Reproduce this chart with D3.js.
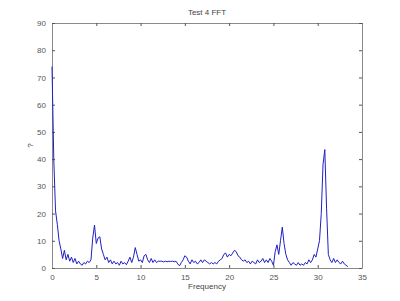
<!DOCTYPE html>
<html>
<head>
<meta charset="utf-8">
<script src="https://cdn.jsdelivr.net/npm/d3@7"></script>
<style>
  body { margin: 0; background: #fff; }
  svg text { font-family: "Liberation Sans", Arial, sans-serif; }
</style>
</head>
<body>
<div class="chart"></div>
<script>
// spectrum magnitudes, sampled every 0.2 Hz starting at 0
let step = 0.2;
let magnitudes = [
  74, 40, 21, 16, 10, 7, 3.5, 6.5, 3, 5,
  2.5, 4, 2, 3.5, 1.5, 2.5, 1.5, 1, 2, 1.5,
  2.5, 2, 3, 11, 15.8, 9, 11, 11.5, 7, 5,
  3, 4, 2, 3, 1.5, 2.5, 1.5, 2, 1, 2.5,
  1.5, 2, 1.2, 2.5, 4, 2, 4, 7.5, 5, 2.5,
  3, 2, 4.5, 5, 3, 2, 3.5, 2, 3, 2,
  2.5, 2.5, 2.5, 2.2, 2.5, 2.3, 2.5, 2.4, 2.5, 2.3,
  2.5, 1.5, 0.8, 2, 3, 4.5, 4, 2.5, 1.5, 3,
  2, 2.5, 1.5, 2, 3, 2, 3, 2.5, 2, 1.5,
  2, 1.5, 2, 1.5, 2.5, 3, 3.5, 5, 5.5, 4,
  5, 4.5, 5.5, 6.5, 6, 4.5, 4, 3, 2.5, 3,
  2, 2.5, 1.5, 2.5, 2, 1.5, 3, 2, 2.5, 3.5,
  2, 3, 2, 3.5, 2.5, 1, 6, 8.5, 5, 10,
  15, 9, 5, 3, 2, 1, 2, 1.5, 1, 2,
  1, 1.5, 1, 2, 1.5, 3, 2, 3, 5, 4,
  7, 10, 20, 38, 43.5, 22, 5, 3, 2, 3.5,
  2, 3, 2, 1.5, 2.5, 1.5, 1, 0.5
];
let xTicks = [0, 5, 10, 15, 20, 25, 30, 35];
let yTicks = [0, 10, 20, 30, 40, 50, 60, 70, 80, 90];

let data = magnitudes.map(function(v, i) { return {freq: i * step, val: v}; });

let margin = {top: 23, right: 38, bottom: 33, left: 52};
let width = 400 - margin.left - margin.right,
    height = 301 - margin.top - margin.bottom;

let svg = d3.select(".chart").append("svg")
    .attr("width", 400)
    .attr("height", 301);

let g = svg.append("g")
    .attr("transform", "translate(" + margin.left + "," + margin.top + ")");

const xScale = d3.scaleLinear().domain([0, 35]).range([0, width]);
const yScale = d3.scaleLinear().domain([0, 90]).range([height, 0]);

// inward ticks on all four sides, like a boxed axes
function styleAxis(sel) {
  sel.select(".domain").attr("stroke", "#8a8a8a");
  sel.selectAll(".tick line").attr("stroke", "#555");
  sel.selectAll("text").attr("fill", "#555").style("font-size", "8px");
}

g.append("g")
  .attr("transform", `translate(0, ${height})`)
  .call(d3.axisBottom(xScale).tickValues(xTicks).tickSizeInner(-3).tickSizeOuter(0).tickPadding(6))
  .call(styleAxis);

g.append("g")
  .call(d3.axisTop(xScale).tickValues(xTicks).tickSizeInner(-3).tickSizeOuter(0).tickFormat(""))
  .call(styleAxis);

g.append("g")
  .call(d3.axisLeft(yScale).tickValues(yTicks).tickSizeInner(-3).tickSizeOuter(0).tickPadding(6))
  .call(styleAxis);

g.append("g")
  .attr("transform", `translate(${width}, 0)`)
  .call(d3.axisRight(yScale).tickValues(yTicks).tickSizeInner(-3).tickSizeOuter(0).tickFormat(""))
  .call(styleAxis);

g.append("path")
  .datum(data)
  .attr("fill", "none")
  .attr("stroke", "#1f1fc4")
  .attr("stroke-width", 1)
  .attr("stroke-linejoin", "round")
  .attr("d", d3.line()
    .x(function(d) { return xScale(d.freq); })
    .y(function(d) { return yScale(d.val); }));

svg.append("text")
  .attr("x", margin.left + width / 2)
  .attr("y", 15)
  .attr("text-anchor", "middle")
  .attr("fill", "#444")
  .style("font-size", "8px")
  .text("Test 4 FFT");

svg.append("text")
  .attr("x", margin.left + width / 2)
  .attr("y", 289)
  .attr("text-anchor", "middle")
  .attr("fill", "#444")
  .style("font-size", "8px")
  .text("Frequency");

svg.append("text")
  .attr("transform", "translate(33," + (margin.top + height / 2) + ") rotate(-90)")
  .attr("text-anchor", "middle")
  .attr("fill", "#444")
  .style("font-size", "8px")
  .text("?");
</script>
</body>
</html>
